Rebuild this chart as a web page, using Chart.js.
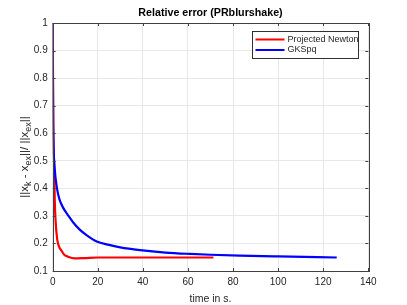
<!DOCTYPE html>
<html><head><meta charset="utf-8">
<script src="https://cdn.jsdelivr.net/npm/chart.js@4/dist/chart.umd.min.js"></script>
<style>html,body{margin:0;padding:0;background:#fff;}#wrap{width:407px;height:305px;}</style>
</head><body><div id="wrap"><canvas id="c" width="407" height="305"></canvas></div>
<script>
const titleText = "Relative error (PRblurshake)";
const xTitle = "time in s.";
// y title pieces: [text, isSubscript]
const yTitleParts = [["||x", false], ["k", true], [" - x", false], ["ex", true], ["||/ ||x", false], ["ex", true], ["||", false]];
const seriesNames = ["Projected Newton", "GKSpq"];
const newtonT = [0, 0.3, 0.7, 0.9, 1.3, 2, 3, 3.8, 5, 6.8, 9.8, 14, 20, 30, 50, 71.3];
const newtonE = [1, 0.6, 0.47, 0.36, 0.28, 0.215, 0.185, 0.175, 0.16, 0.152, 0.146, 0.147, 0.149, 0.149, 0.149, 0.149];
const gksT = [0, 0.1, 0.2, 0.4, 0.9, 1.9, 3, 4.6, 7, 9.2, 12, 15, 19.5, 25, 30, 38.7, 50, 60.9, 70, 83, 100, 126];
const gksE = [1, 0.8, 0.65, 0.55, 0.47, 0.4, 0.36, 0.33, 0.3, 0.275, 0.25, 0.23, 0.207, 0.195, 0.186, 0.176, 0.167, 0.162, 0.159, 0.156, 0.153, 0.149];
const xTicks = [0, 20, 40, 60, 80, 100, 120, 140];
const yTicks = [0.1, 0.2, 0.3, 0.4, 0.5, 0.6, 0.7, 0.8, 0.9, 1];

const FONT = "'Liberation Sans', Arial, Helvetica, sans-serif";
const AX = '#404040';

const framePlugin = {
  id: 'frame',
  afterDraw(chart) {
    const ctx = chart.ctx, a = chart.chartArea;
    const xs = chart.scales.x, ys = chart.scales.y;
    ctx.save();
    ctx.strokeStyle = AX; ctx.lineWidth = 1;
    ctx.beginPath();
    xTicks.forEach(v => {
      const px = Math.round(xs.getPixelForValue(v)) + 0.5;
      ctx.moveTo(px, a.bottom); ctx.lineTo(px, a.bottom - 3);
      ctx.moveTo(px, a.top); ctx.lineTo(px, a.top + 3);
    });
    yTicks.forEach(v => {
      const py = Math.round(ys.getPixelForValue(v)) + 0.5;
      ctx.moveTo(a.left, py); ctx.lineTo(a.left + 3, py);
      ctx.moveTo(a.right, py); ctx.lineTo(a.right - 3, py);
    });
    ctx.stroke();
    ctx.strokeRect(Math.round(a.left) + 0.5, Math.round(a.top) + 0.5, Math.round(a.right - a.left), Math.round(a.bottom - a.top));
    // title
    ctx.fillStyle = '#000';
    ctx.font = "bold 10.7px " + FONT;
    ctx.textAlign = 'center'; ctx.textBaseline = 'middle';
    ctx.fillText(titleText, (a.left + a.right) / 2, 13);
    // y title with subscripts
    ctx.save();
    ctx.translate(24, 157);
    ctx.rotate(-Math.PI / 2);
    ctx.fillStyle = '#262626';
    ctx.textAlign = 'left'; ctx.textBaseline = 'alphabetic';
    const mainF = "11.5px " + FONT, subF = "9px " + FONT;
    let total = 0;
    yTitleParts.forEach(([t, s]) => { ctx.font = s ? subF : mainF; total += ctx.measureText(t).width; });
    let cx = -total / 2;
    yTitleParts.forEach(([t, s]) => {
      ctx.font = s ? subF : mainF;
      ctx.fillText(t, cx, s ? 6.5 : 3.5);
      cx += ctx.measureText(t).width;
    });
    ctx.restore();
    // legend
    const lx = 252.5, ly = 31.5, lw = 106, lh = 27;
    ctx.fillStyle = '#fff';
    ctx.fillRect(lx, ly, lw, lh);
    ctx.strokeStyle = '#303030'; ctx.lineWidth = 1;
    ctx.strokeRect(lx, ly, lw, lh);
    ctx.font = "9px " + FONT;
    ctx.textAlign = 'left'; ctx.textBaseline = 'middle';
    const cols = ['#ff0000', '#0000ff'];
    seriesNames.forEach((n, i) => {
      const yy = ly + 8 + i * 10.5;
      ctx.strokeStyle = cols[i]; ctx.lineWidth = 2;
      ctx.beginPath(); ctx.moveTo(lx + 3, yy); ctx.lineTo(lx + 32, yy); ctx.stroke();
      ctx.fillStyle = '#262626';
      ctx.fillText(n, lx + 35, yy);
    });
    ctx.restore();
  }
};

new Chart(document.getElementById('c'), {
  type: 'line',
  data: {
    datasets: [
      { label: seriesNames[0], data: newtonT.map((t, i) => ({x: t, y: newtonE[i]})), borderColor: '#ff0000', borderWidth: 2.2, pointRadius: 0, cubicInterpolationMode: 'monotone', order: 2 },
      { label: seriesNames[1], data: gksT.map((t, i) => ({x: t, y: gksE[i]})), borderColor: '#0000ff', borderWidth: 2.2, pointRadius: 0, cubicInterpolationMode: 'monotone', order: 1 }
    ]
  },
  options: {
    responsive: false, animation: false,
    layout: { padding: { top: 23, right: 38.7, left: 0, bottom: 0 } },
    plugins: { legend: { display: false }, tooltip: { enabled: false } },
    scales: {
      x: {
        type: 'linear', min: 0, max: 140,
        afterBuildTicks(s) { s.ticks = xTicks.map(v => ({value: v})); },
        afterFit(s) { s.height = 34; },
        grid: { color: '#e8e8e8', drawTicks: false },
        border: { display: false },
        ticks: { color: '#262626', font: { family: FONT, size: 10 }, padding: 5, maxRotation: 0, callback: v => String(v) },
        title: { display: true, text: xTitle, color: '#262626', font: { family: FONT, size: 10.5 }, padding: { top: 2, bottom: 0 } }
      },
      y: {
        type: 'linear', min: 0.1, max: 1,
        afterBuildTicks(s) { s.ticks = yTicks.map(v => ({value: v})); },
        afterFit(s) { s.width = 52.7; },
        grid: { color: '#e8e8e8', drawTicks: false },
        border: { display: false },
        ticks: { color: '#262626', font: { family: FONT, size: 10 }, padding: 5, callback: v => (Math.abs(v - 1) < 1e-9 ? '1' : (+v).toFixed(1)) },
        title: { display: false }
      }
    }
  },
  plugins: [framePlugin]
});
</script></body></html>
